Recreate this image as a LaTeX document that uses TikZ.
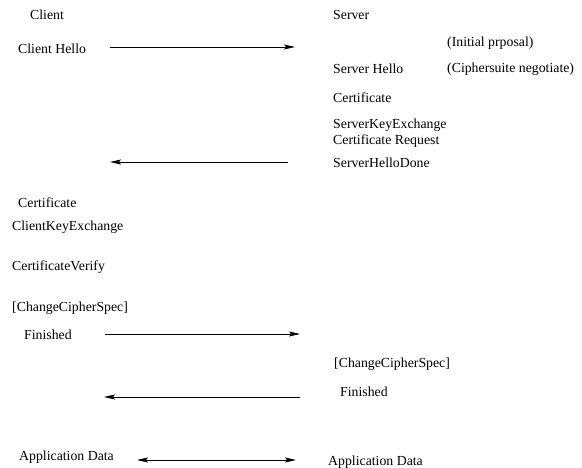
\documentclass[tikz,border=0pt]{standalone}
\usepackage{fontspec}
\setmainfont{Liberation Serif}
\usetikzlibrary{arrows.meta}
\begin{document}
\begin{tikzpicture}[x=1pt,y=-1pt,
  lbl/.style={anchor=west,inner sep=0pt,font=\fontsize{13.8}{16}\selectfont},
  msg/.style={line width=0.8pt,-{Stealth[length=11pt,width=5pt,inset=2pt]}},
  msgboth/.style={line width=0.8pt,{Stealth[length=11pt,width=5pt,inset=2pt]}-{Stealth[length=11pt,width=5pt,inset=2pt]}}]
\useasboundingbox (0,0) rectangle (582,467);
% column headings
\node[lbl] (client) at (30,15) {Client};
\node[lbl] (server) at (333,15) {Server};
% client side messages
\node[lbl] (chello) at (18,49) {Client Hello};
\node[lbl] (ccert) at (18,203) {Certificate};
\node[lbl] (ckex) at (12,227) {ClientKeyExchange};
\node[lbl] (cverify) at (12,267) {CertificateVerify};
\node[lbl] (cccs) at (12,308) {[ChangeCipherSpec]};
\node[lbl] (cfin) at (24,335) {Finished};
\node[lbl] (cdata) at (19,457) {Application Data};
% server side messages
\node[lbl] (initial) at (447,43) {(Initial prposal)};
\node[lbl] (shello) at (333,69) {Server Hello};
\node[lbl] (negot) at (447,69) {(Ciphersuite negotiate)};
\node[lbl] (scert) at (333,98) {Certificate};
\node[lbl] (skex) at (333,125) {ServerKeyExchange};
\node[lbl] (sreq) at (333,141) {Certificate Request};
\node[lbl] (sdone) at (333,163) {ServerHelloDone};
\node[lbl] (sccs) at (334,364) {[ChangeCipherSpec]};
\node[lbl] (sfin) at (340,392) {Finished};
\node[lbl] (sdata) at (328,462) {Application Data};
% arrow end points
\coordinate (a1s) at (110,47);  \coordinate (a1e) at (295,47);
\coordinate (a2s) at (288,162); \coordinate (a2e) at (110,162);
\coordinate (a3s) at (105,334); \coordinate (a3e) at (300,334);
\coordinate (a4s) at (300,397); \coordinate (a4e) at (104,397);
\coordinate (a5s) at (137,460); \coordinate (a5e) at (296,460);
% message flow
\draw[msg] (a1s) -- (a1e);
\draw[msg] (a2s) -- (a2e);
\draw[msg] (a3s) -- (a3e);
\draw[msg] (a4s) -- (a4e);
\draw[msgboth] (a5s) -- (a5e);
\end{tikzpicture}
\end{document}
